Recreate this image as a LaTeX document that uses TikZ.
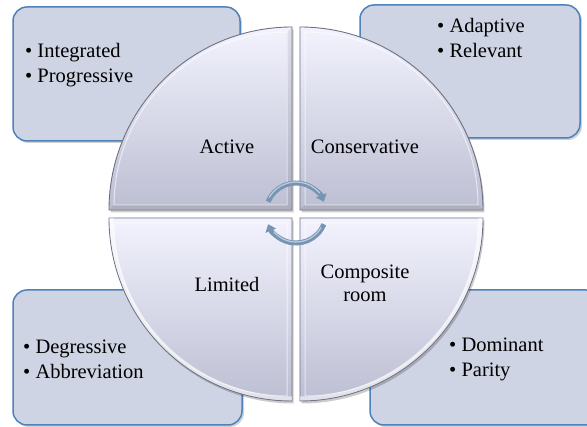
\documentclass[tikz,border=0pt]{standalone}
\usepackage{fontspec}
\setmainfont{Liberation Serif}[Ligatures=TeX]
\newfontfamily\serifx{Liberation Serif}
\usetikzlibrary{arrows.meta,shadows}
\definecolor{boxfill}{RGB}{206,212,227}
\definecolor{boxline}{RGB}{79,129,189}
\definecolor{qtop}{RGB}{243,243,254}
\definecolor{qbot}{RGB}{188,190,210}
\definecolor{qedge}{RGB}{110,112,130}
\definecolor{arrowc}{RGB}{118,148,180}
\definecolor{arrowl}{RGB}{190,205,222}
\begin{document}
\begin{tikzpicture}[x=1pt,y=1pt,
 infobox/.style={draw=boxline, line width=1.5pt, fill=boxfill, rounded corners=14pt,
   drop shadow={shadow xshift=2pt, shadow yshift=-2pt, opacity=0.35}},
 quad/.style={draw=qedge, line width=0.9pt, top color=qtop, bottom color=qbot},
 bevel/.style={draw=white, line width=1pt, opacity=0.6},
 darkband/.style={fill=black, opacity=0.08},
 lightband/.style={draw=white, line width=4pt, opacity=0.55},
 qshadow/.style={fill=black, opacity=0.2},
 lbl/.style={font=\serifx\fontsize{20.5}{23}\selectfont, inner sep=0pt, align=center},
 lst/.style={font=\serifx\fontsize{20.5}{25}\selectfont, inner sep=0pt, align=left, anchor=west},
 cyc/.style={line width=5pt, draw=arrowc, -{Triangle[width=11pt,length=7pt]}},
 cychl/.style={line width=1.2pt, draw=arrowl}
]
\useasboundingbox (0,0) rectangle (587,427);
\fill[white] (0,0) rectangle (587,427);

% info boxes
\node[infobox, minimum width=227pt, minimum height=134pt] (tlbox) at (126.5,353) {};
\node[infobox, minimum width=220pt, minimum height=133pt] (trbox) at (470,355.5) {};
\node[infobox, minimum width=229pt, minimum height=135pt] (blbox) at (127.5,69.5) {};
\node[infobox, minimum width=230pt, minimum height=135pt] (brbox) at (485,69.5) {};

% quadrant shadows
\fill[qshadow] (293.5,214.5) -- (110.5,214.5) arc[start angle=180,end angle=90,radius=183] -- cycle;
\fill[qshadow] (301.5,214.5) -- (301.5,397.5) arc[start angle=90,end angle=0,radius=183] -- cycle;
\fill[qshadow] (293.5,206.5) -- (293.5,23.5) arc[start angle=270,end angle=180,radius=183] -- cycle;
\fill[qshadow] (301.5,206.5) -- (484.5,206.5) arc[start angle=0,end angle=-90,radius=183] -- cycle;

% quadrants
\draw[quad] (292,217) -- (109,217) arc[start angle=180,end angle=90,radius=183] -- cycle;
\draw[quad] (300,217) -- (300,400) arc[start angle=90,end angle=0,radius=183] -- cycle;
\draw[quad] (292,209) -- (292,26) arc[start angle=270,end angle=180,radius=183] -- cycle;
\draw[quad] (300,209) -- (483,209) arc[start angle=0,end angle=-90,radius=183] -- cycle;

% bevel bands
\fill[darkband] (291.5,217.5) -- (109.5,217.5) -- (114.5,222.5) -- (286.5,222.5) -- cycle;
\fill[darkband] (299.5,217.5) -- (482.5,217.5) -- (477.5,222.5) -- (305.5,222.5) -- cycle;
\fill[darkband] (291.5,217.5) -- (286.5,222.5) -- (286.5,394) -- (291.5,399.5) -- cycle;
\begin{scope}
\clip (292,209) -- (292,26) arc[start angle=270,end angle=180,radius=183] -- cycle;
\draw[lightband] (292,28.5) arc[start angle=270,end angle=180,radius=180.5];
\end{scope}
\begin{scope}
\clip (300,209) -- (483,209) arc[start angle=0,end angle=-90,radius=183] -- cycle;
\draw[lightband] (480.5,209) arc[start angle=0,end angle=-90,radius=180.5];
\end{scope}

% bevel lines
\draw[bevel] (287,222) -- (114.1,222) arc[start angle=180,end angle=90,radius=173] -- cycle;
\draw[bevel] (305,222) -- (305,395) arc[start angle=90,end angle=0,radius=173] -- cycle;
\draw[bevel] (287,204) -- (287,31) arc[start angle=270,end angle=180,radius=173] -- cycle;
\draw[bevel] (305,204) -- (478,204) arc[start angle=0,end angle=-90,radius=173] -- cycle;

% quadrant labels
\node[lbl] (active) at (227,280) {Active};
\node[lbl] (conservative) at (365,280) {Conservative};
\node[lbl] (limited) at (227,143) {Limited};
\node[lbl] (composite) at (365,144) {Composite\\room};

% list texts
\node[lst] (tltext) at (25,361.5) {\textbullet{} Integrated\\\textbullet{} Progressive};
\node[lst] (trtext) at (437,389) {\textbullet{} Adaptive\\\textbullet{} Relevant};
\node[lst] (bltext) at (23,67.5) {\textbullet{} Degressive\\\textbullet{} Abbreviation};
\node[lst] (brtext) at (449,68) {\textbullet{} Dominant\\\textbullet{} Parity};

% cycle arrows
\coordinate (cyc) at (296,214);
\draw[cyc] ([shift={(158:30)}]cyc) arc[start angle=158,end angle=22,radius=30];
\draw[cyc] ([shift={(-22:30)}]cyc) arc[start angle=-22,end angle=-158,radius=30];
\draw[cychl] ([shift={(150:31)}]cyc) arc[start angle=150,end angle=40,radius=31];
\draw[cychl] ([shift={(-30:29)}]cyc) arc[start angle=-30,end angle=-140,radius=29];
\end{tikzpicture}
\end{document}
